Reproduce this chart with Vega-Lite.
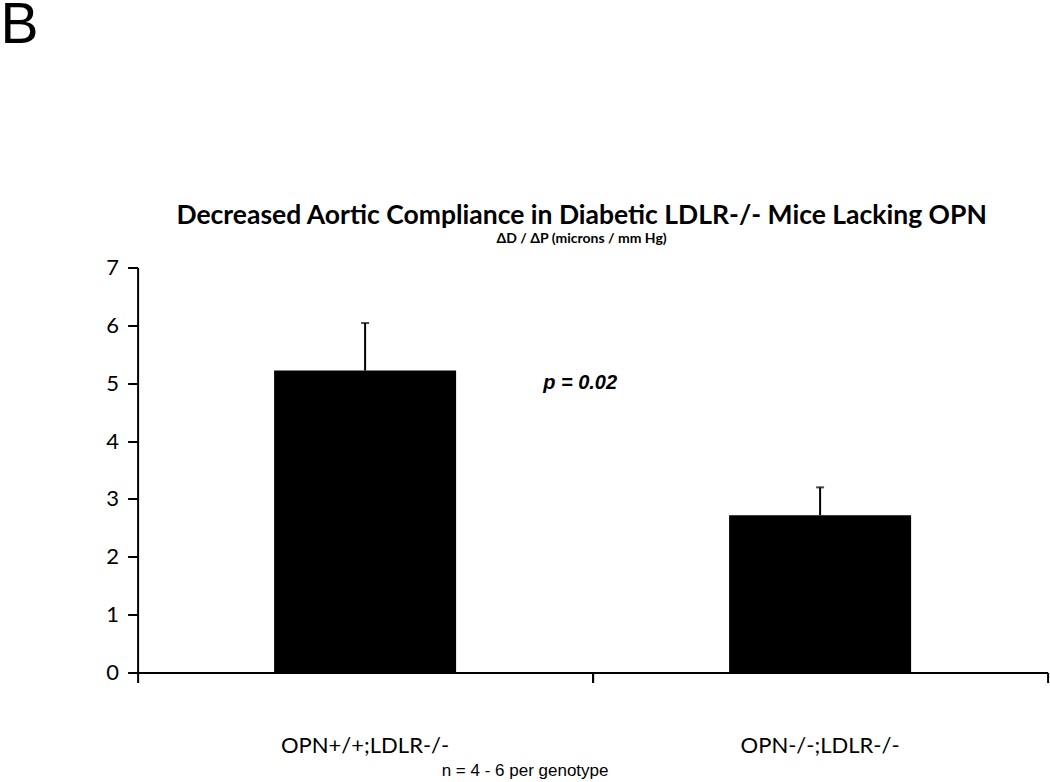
{
  "$schema": "https://vega.github.io/schema/vega-lite/v6.json",
  "width": 910,
  "height": 405,
  "autosize": "none",
  "padding": {"left": 137.6, "top": 267.5, "right": 2.4, "bottom": 109.5},
  "background": "white",
  "config": {"view": {"stroke": null}, "font": "Lato"},
  "title": {
    "text": "Decreased Aortic Compliance in Diabetic LDLR-/- Mice Lacking OPN",
    "subtitle": "ΔD / ΔP (microns / mm Hg)",
    "font": "Lato", "fontSize": 26.5, "fontWeight": "bold", "color": "#000000",
    "subtitleFont": "Lato", "subtitleFontSize": 14, "subtitleFontWeight": "bold", "subtitleColor": "#000000",
    "anchor": "middle", "dx": -11, "offset": -250, "subtitlePadding": 3
  },
  "data": {"values": [
    {"genotype": "OPN+/+;LDLR-/-", "mean": 5.22, "upper": 6.04},
    {"genotype": "OPN-/-;LDLR-/-", "mean": 2.72, "upper": 3.2}
  ]},
  "layer": [
    {
      "mark": {"type": "bar", "color": "#000000", "width": {"band": 0.4}},
      "encoding": {
        "x": {"field": "genotype", "type": "nominal", "sort": null,
          "scale": {"paddingInner": 0, "paddingOuter": 0},
          "axis": {"orient": "bottom", "title": "n = 4 - 6 per genotype", "titleFont": "Liberation Sans", "titleFontSize": 17, "titleFontWeight": "normal", "titleColor": "#000000",
            "titleX": 387, "titleY": 98, "titleBaseline": "middle", "titleAlign": "center",
            "labelAngle": 0, "labelFont": "Lato", "labelFontSize": 22, "labelColor": "#000000", "labelPadding": 63,
            "ticks": false, "domainColor": "#000000", "domainWidth": 2}},
        "y": {"field": "mean", "type": "quantitative", "scale": {"domain": [0, 7]},
          "axis": {"title": "B", "titleAngle": 0, "titleAlign": "left", "titleBaseline": "alphabetic", "titleX": -137.6, "titleY": -225.5,
            "titleFont": "Liberation Sans", "titleFontSize": 57, "titleFontWeight": "normal", "titleColor": "#000000",
            "values": [0, 1, 2, 3, 4, 5, 6, 7], "format": "d", "grid": false, "labelFont": "Lato", "labelFontSize": 22, "labelColor": "#000000", "labelPadding": 9,
            "tickSize": 10, "tickWidth": 2, "tickColor": "#000000", "domainWidth": 2, "domainColor": "#000000"}}
      }
    },
    {
      "mark": {"type": "rule", "strokeWidth": 2, "color": "#000000"},
      "encoding": {
        "x": {"field": "genotype", "type": "nominal", "sort": null,
          "axis": {"orient": "bottom", "title": null, "labels": false, "domain": false, "bandPosition": 0, "tickSize": 10, "tickWidth": 2, "tickColor": "#000000"}},
        "y": {"field": "mean", "type": "quantitative"},
        "y2": {"field": "upper"}
      }
    },
    {
      "mark": {"type": "tick", "color": "#000000", "size": 8, "thickness": 2},
      "encoding": {
        "x": {"field": "genotype", "type": "nominal", "sort": null,
          "axis": {"orient": "bottom", "title": null, "labels": false, "domain": false, "bandPosition": 1, "tickSize": 10, "tickWidth": 2, "tickColor": "#000000"}},
        "y": {"field": "upper", "type": "quantitative"}
      }
    },
    {
      "data": {"values": [{"genotype": "OPN+/+;LDLR-/-", "mean": 5, "label": "p = 0.02"}]},
      "mark": {"type": "text", "font": "Liberation Sans", "fontStyle": "italic", "fontWeight": "bold", "fontSize": 20, "dx": 215, "align": "center", "baseline": "middle", "color": "#000000"},
      "encoding": {
        "x": {"field": "genotype", "type": "nominal", "sort": null, "axis": null},
        "y": {"field": "mean", "type": "quantitative"},
        "text": {"field": "label"}
      }
    }
  ],
  "resolve": {"axis": {"x": "independent"}}
}
